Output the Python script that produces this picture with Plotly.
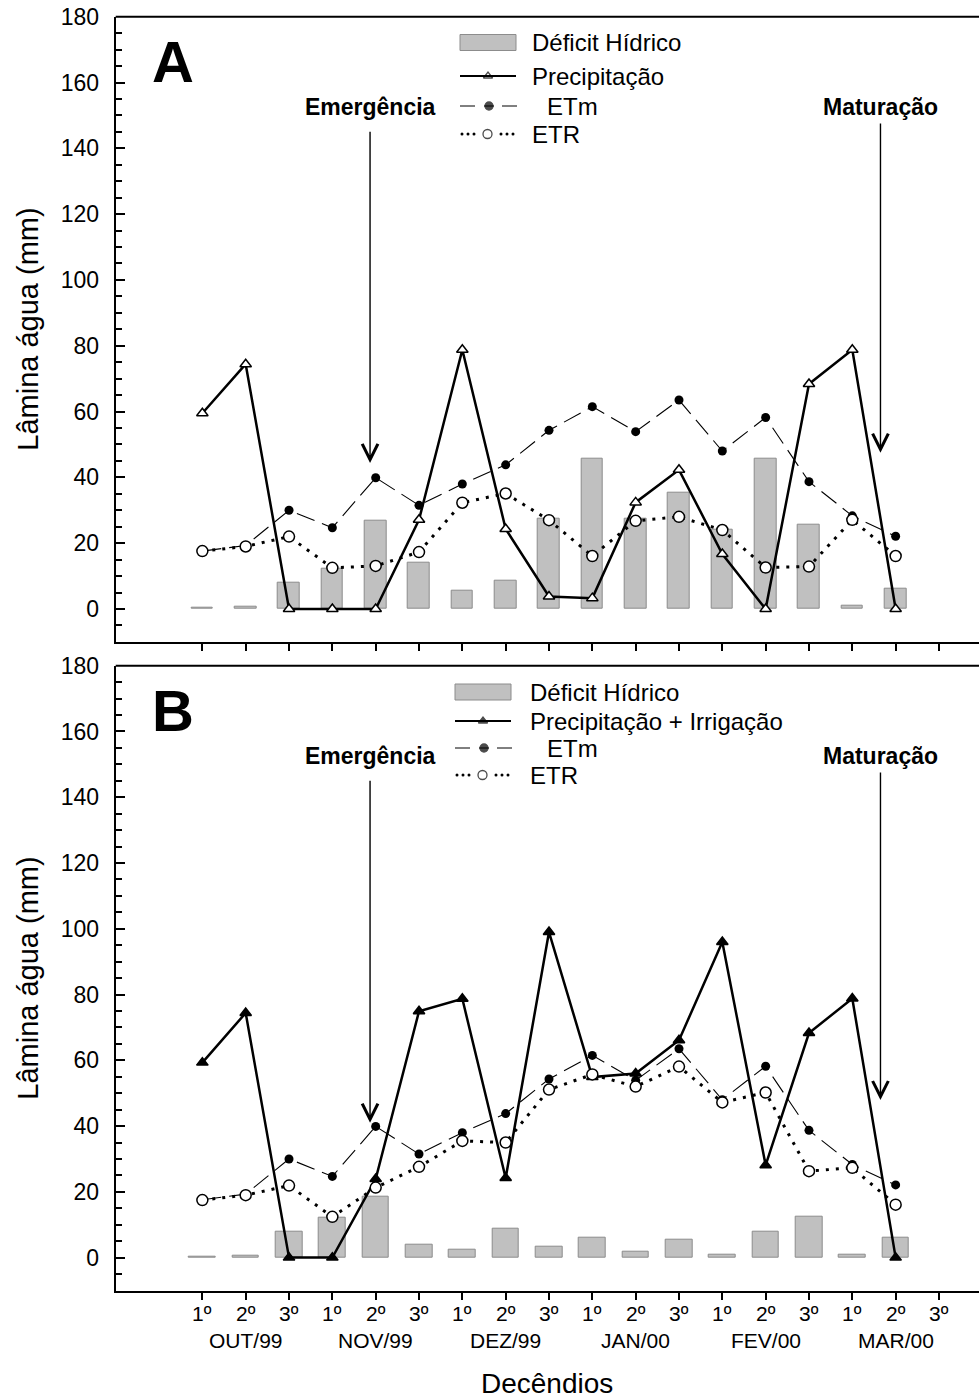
import plotly.graph_objects as go

# ---- data (mm per decêndio) ----
decendio_labels = ["1º", "2º", "3º"] * 6
meses = ["OUT/99", "NOV/99", "DEZ/99", "JAN/00", "FEV/00", "MAR/00"]

deficit_a = [0.4, 0.7, 7.9, 12.2, 26.9, 14.2, 5.7, 8.7, 27.3, 45.6, 27.3, 35.4, 24.1, 45.6, 25.6, 1.1, 6.1]
precip_a = [59.5, 74.4, 0, 0, 0, 27.1, 78.8, 24.3, 3.8, 3.3, 32.4, 42.3, 16.7, 0, 68.4, 78.8, 0]
etm = [17.6, 19.3, 30.0, 24.7, 39.9, 31.5, 38.0, 43.8, 54.3, 61.5, 53.9, 63.5, 48.0, 58.2, 38.7, 28.3, 22.1]
etr_a = [17.6, 19.0, 22.0, 12.5, 13.1, 17.3, 32.3, 35.1, 27.0, 16.1, 26.8, 28.0, 24.0, 12.6, 12.9, 27.1, 16.1]

deficit_b = [0.4, 0.6, 7.8, 12.2, 18.4, 3.8, 2.3, 8.7, 3.2, 6.1, 1.9, 5.3, 0.9, 8.0, 12.4, 0.9, 6.1]
precip_irr_b = [59.3, 74.4, 0, 0, 23.9, 74.9, 78.7, 24.2, 99.0, 54.9, 56.0, 66.1, 96.0, 28.1, 68.3, 78.8, 0]
etr_b = [17.5, 19.0, 21.9, 12.4, 21.3, 27.6, 35.5, 35.0, 51.1, 55.7, 52.0, 58.1, 47.2, 50.2, 26.3, 27.3, 16.1]

# stage markers (decêndio position) for crop emergence and maturation
emergencia_pos = 3.87
maturacao_pos = 15.65

W, H = 979, 1400
FONT = "Liberation Sans, Arial, sans-serif"


def px(x):
    return x / W


def py(y):
    return 1 - y / H


x_idx = list(range(len(etm)))
fig = go.Figure()

BAR_FILL = "#c0c0c0"
BAR_LINE = "#8c8c8c"


def add_panel(xa, ya, deficit, precip, etr, bar_w, tri_fill):
    fig.add_trace(go.Bar(x=x_idx, y=deficit, width=bar_w,
                         marker=dict(color=BAR_FILL, line=dict(color=BAR_LINE, width=1)),
                         xaxis=xa, yaxis=ya, showlegend=False))
    fig.add_trace(go.Scatter(x=x_idx, y=precip, mode="lines+markers", xaxis=xa, yaxis=ya, showlegend=False,
                             line=dict(color="black", width=2.5),
                             marker=dict(symbol="triangle-up", size=10, color=tri_fill,
                                         line=dict(color="black", width=1.5)), cliponaxis=False))
    fig.add_trace(go.Scatter(x=x_idx, y=etm, mode="lines+markers", xaxis=xa, yaxis=ya, showlegend=False,
                             line=dict(color="black", width=1.1, dash="19px,8px"),
                             marker=dict(symbol="circle", size=9, color="black")))
    fig.add_trace(go.Scatter(x=x_idx, y=etr, mode="lines+markers", xaxis=xa, yaxis=ya, showlegend=False,
                             line=dict(color="black", width=3, dash="3px,7px"),
                             marker=dict(symbol="circle", size=11, color="white",
                                         line=dict(color="black", width=1.5))))


add_panel("x", "y", deficit_a, precip_a, etr_a, 0.5, "white")
add_panel("x2", "y2", deficit_b, precip_irr_b, etr_b, 0.62, "black")

# ---- axes ----
x_left, x_right = 115.7, 979
step = 43.33
panels = {"A": (16.7, 641.9), "B": (665.7, 1290.5)}
x_dom = [px(x_left), 1]
x_range = [-2, -2 + (x_right - x_left) / step]
tick_pos = list(range(len(decendio_labels)))

common_x = dict(domain=x_dom, range=x_range, showline=True, linewidth=2, linecolor="black",
                ticks="outside", ticklen=7, tickwidth=1.5, tickcolor="black",
                tickvals=tick_pos, showgrid=False, zeroline=False, showticklabels=False)
common_y = dict(range=[-10, 180], showline=True, linewidth=2, linecolor="black",
                ticks="inside", ticklen=9, tickwidth=1.5, tickcolor="black",
                tickvals=list(range(0, 181, 20)), showgrid=False, zeroline=False,
                minor=dict(ticks="inside", ticklen=6, tickwidth=1.5, tickcolor="black", dtick=5, tick0=0,
                           showgrid=False),
                tickfont=dict(family=FONT, size=23, color="black"), ticklabelstandoff=10)

fig.update_layout(
    xaxis=dict(common_x, anchor="y"),
    yaxis=dict(common_y, anchor="x", domain=[py(panels["A"][1]), py(panels["A"][0])]),
    xaxis2=dict(common_x, anchor="y2"),
    yaxis2=dict(common_y, anchor="x2", domain=[py(panels["B"][1]), py(panels["B"][0])]),
    # overlay axis in pixel units used for the legend keys
    xaxis3=dict(domain=[0, 1], range=[0, W], visible=False, anchor="y3"),
    yaxis3=dict(domain=[0, 1], range=[H, 0], visible=False, anchor="x3"),
    width=W, height=H, margin=dict(l=0, r=0, t=0, b=0, autoexpand=False),
    plot_bgcolor="rgba(0,0,0,0)", paper_bgcolor="white", showlegend=False,
    font=dict(family=FONT, color="black"), bargap=0,
)

shapes = []
annotations = []

# top frame line of each panel
for top, _ in panels.values():
    shapes.append(dict(type="line", xref="paper", yref="paper", x0=px(x_left), x1=1, y0=py(top), y1=py(top),
                       line=dict(color="black", width=2)))

# panel letters, y titles
for letter, (top, bottom) in panels.items():
    annotations.append(dict(text=f"<b>{letter}</b>", xref="paper", yref="paper", x=px(173), y=py(top + 45),
                            showarrow=False, font=dict(size=58, family=FONT), xanchor="center", yanchor="middle"))
    annotations.append(dict(text="Lâmina água (mm)", xref="paper", yref="paper", x=px(28), y=py(top + 313),
                            showarrow=False, textangle=-90, font=dict(size=29, family=FONT),
                            xanchor="center", yanchor="middle"))

# stage arrows
stage_arrows = [
    ("x", "y", "Emergência", emergencia_pos, 145.5, 44.4, 107),
    ("x", "y", "Maturação", maturacao_pos, 148.0, 47.5, 107),
    ("x2", "y2", "Emergência", emergencia_pos, 145.5, 41.0, 756),
    ("x2", "y2", "Maturação", maturacao_pos, 148.0, 47.9, 756),
]
for xa, ya, label, xpos, y0, y1, label_px in stage_arrows:
    annotations.append(dict(x=xpos, y=y1, ax=xpos, ay=y0, xref=xa, yref=ya, axref=xa, ayref=ya,
                            text="", showarrow=True, arrowhead=5, arrowsize=2.2, arrowwidth=1.4,
                            arrowcolor="black"))
    annotations.append(dict(text=f"<b>{label}</b>", xref=xa, yref="paper", x=xpos, y=py(label_px),
                            showarrow=False, font=dict(size=23, family=FONT), xanchor="center",
                            yanchor="middle"))

# decêndio tick labels, month labels and x title
for t, lab in zip(tick_pos, decendio_labels):
    annotations.append(dict(text=lab, xref="x2", yref="paper", x=t, y=py(1313), showarrow=False,
                            font=dict(size=21, family=FONT), xanchor="center", yanchor="middle"))
for i, m in enumerate(meses):
    annotations.append(dict(text=m, xref="x2", yref="paper", x=3 * i + 1, y=py(1340), showarrow=False,
                            font=dict(size=21, family=FONT), xanchor="center", yanchor="middle"))
annotations.append(dict(text="Decêndios", xref="paper", yref="paper", x=px(547), y=py(1383), showarrow=False,
                        font=dict(size=28, family=FONT), xanchor="center", yanchor="middle"))

# ---- legend keys (pixel overlay axis) ----
legend_rows = {
    "A": dict(x0=460, rows=[42.5, 76, 106, 134], text_x=[530, 530, 545, 530],
              labels=["Déficit Hídrico", "Precipitação", "ETm", "ETR"], tri_color="white"),
    "B": dict(x0=455, rows=[692, 721, 748, 775], text_x=[528, 528, 545, 528],
              labels=["Déficit Hídrico", "Precipitação + Irrigação", "ETm", "ETR"], tri_color="black"),
}
for key, lg in legend_rows.items():
    x0 = lg["x0"]
    r = lg["rows"]
    shapes.append(dict(type="rect", xref="x3", yref="y3", x0=x0, x1=x0 + 56, y0=r[0] - 8, y1=r[0] + 8,
                       fillcolor=BAR_FILL, line=dict(color=BAR_LINE, width=1)))
    shapes.append(dict(type="line", xref="x3", yref="y3", x0=x0, x1=x0 + 56, y0=r[1], y1=r[1],
                       line=dict(color="black", width=2)))
    for a, b in [(0, 15), (24, 34), (42, 57)]:
        shapes.append(dict(type="line", xref="x3", yref="y3", x0=x0 + a, x1=x0 + b, y0=r[2], y1=r[2],
                           line=dict(color="black", width=1)))
    fig.add_trace(go.Scatter(x=[x0 + 2, x0 + 8, x0 + 14, x0 + 41, x0 + 47, x0 + 53], y=[r[3]] * 6,
                             mode="markers", xaxis="x3", yaxis="y3",
                             marker=dict(symbol="circle", size=3, color="black"),
                             showlegend=False, hoverinfo="skip"))
    fig.add_trace(go.Scatter(x=[x0 + 28, x0 + 29, x0 + 27.5], y=[r[1], r[2], r[3]], mode="markers",
                             xaxis="x3", yaxis="y3", showlegend=False, hoverinfo="skip",
                             marker=dict(symbol=["triangle-up", "circle", "circle"], size=[8, 8, 9],
                                         color=[lg["tri_color"], "black", "white"],
                                         line=dict(color="black", width=1.3))))
    for t, tx, ty in zip(lg["labels"], lg["text_x"], r):
        annotations.append(dict(text=t, xref="x3", yref="y3", x=tx, y=ty, showarrow=False, xanchor="left",
                                yanchor="middle", font=dict(size=24, family=FONT)))

fig.update_layout(shapes=shapes, annotations=annotations)
fig.write_html("out.html")
